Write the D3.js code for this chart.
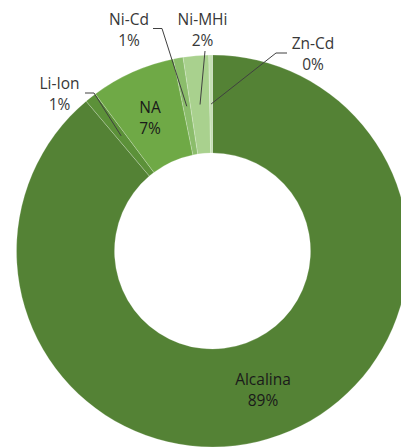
<!DOCTYPE html>
<html>
<head>
<meta charset="utf-8">
<script src="https://cdn.jsdelivr.net/npm/d3@7"></script>
<style>
  body { margin: 0; background: #fff; }
  svg { display: block; }
</style>
</head>
<body>
<svg id="chart_svg" width="401" height="447"></svg>
<script>
// data (share of each battery type, %)
var categories = ["Alcalina", "Li-Ion", "NA", "Ni-Cd", "Ni-MHi", "Zn-Cd"];
var values = [88.85, 0.95, 7.0, 0.8, 2.1, 0.3];
var colors = ["#548235", "#5c9139", "#6fa946", "#8bbd6b", "#a9d18e", "#c5e0b4"];

// label layout: inside labels sit at fixed points, outside ones get a leader line
var label_pos = {
    "Alcalina": { x: 263, y: 385, inside: true },
    "Li-Ion": { x: 59.5, y: 89, inside: false, hook: [[85, 93], [94, 93]] },
    "NA": { x: 150, y: 113, inside: true },
    "Ni-Cd": { x: 129, y: 25, inside: false, hook: [[153, 28.5], [162, 28.5]] },
    "Ni-MHi": { x: 202.5, y: 25, inside: false, hook: [[205, 51]] },
    "Zn-Cd": { x: 313, y: 49, inside: false, hook: [[287, 53], [276, 53]] }
};

var cx = 212.5, cy = 251, r_out = 196, r_in = 98;

var svg = d3.select("#chart_svg");
var g = svg.append("g").attr("transform", "translate(" + cx + "," + cy + ")");

var data = categories.map(function (c, i) { return { name: c, value: values[i], color: colors[i] }; });
var total = d3.sum(values);

var pie = d3.pie().sort(null).value(d => d.value);
var arc = d3.arc().innerRadius(r_in).outerRadius(r_out);
var arcs = pie(data);

// slices
g.selectAll(".slice").data(arcs).join("path").classed("slice", true)
    .attr("d", arc)
    .attr("fill", d => d.data.color)
    .attr("stroke", "#ffffff").attr("stroke-opacity", 0.35).attr("stroke-width", 0.6);

// leader lines for the outside labels
arcs.forEach(function (d) {
    var lp = label_pos[d.data.name];
    if (lp.inside) return;
    var c = arc.centroid(d);
    var pts = lp.hook.map(p => [p[0] - cx, p[1] - cy]);
    pts.push(c);
    g.append("path")
        .attr("d", d3.line()(pts))
        .attr("fill", "none")
        .attr("stroke", "#404040").attr("stroke-width", 1);
});

// labels: name and rounded percent
arcs.forEach(function (d) {
    var lp = label_pos[d.data.name];
    var t = svg.append("text")
        .attr("text-anchor", "middle")
        .attr("font-family", "'Open Sans', sans-serif")
        .attr("font-size", "15.5px")
        .attr("fill", lp.inside ? "#1a1a1a" : "#383838");
    t.append("tspan").attr("x", lp.x).attr("y", lp.y).text(d.data.name);
    t.append("tspan").attr("x", lp.x).attr("y", lp.y + 21)
        .text(Math.round(d.data.value / total * 100) + "%");
});
</script>
</body>
</html>
